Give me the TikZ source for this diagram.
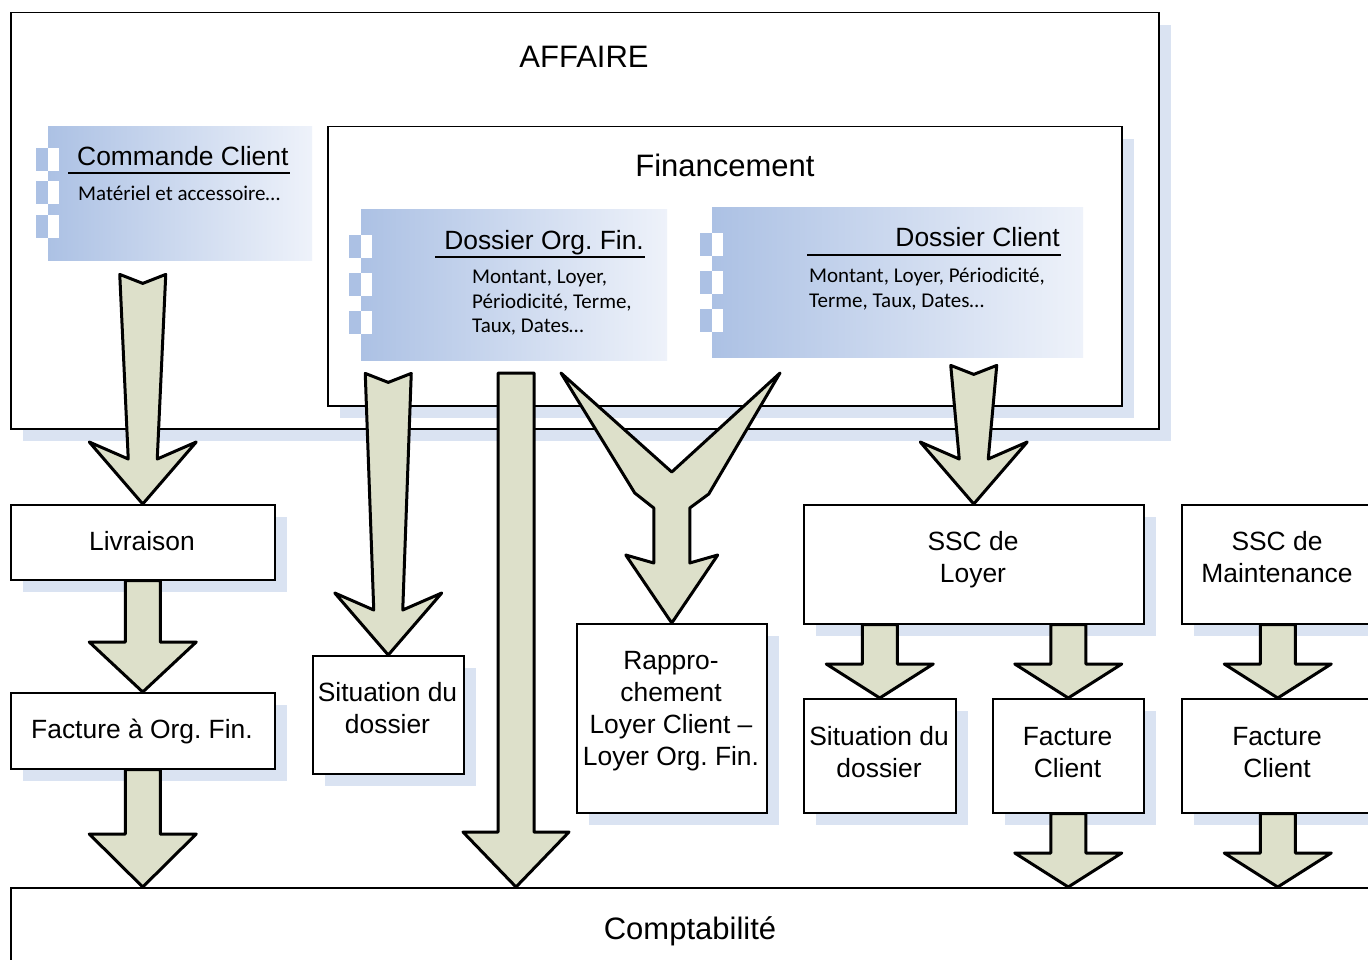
\documentclass[tikz,border=0pt]{standalone}
\usepackage{fontspec}
\setmainfont{Liberation Sans}
\newfontfamily\calfont{Carlito}
\usetikzlibrary{calc,shadows}
\frenchspacing
\definecolor{gl}{RGB}{172,193,228}
\definecolor{gr}{RGB}{238,242,250}
\definecolor{shadowc}{RGB}{218,227,242}
\definecolor{arrfill}{RGB}{221,224,202}
\newcommand\llines[1]{\begin{tabular}[t]{@{}l@{}}#1\end{tabular}}
\newcommand\clines[1]{\begin{tabular}[t]{@{}c@{}}#1\end{tabular}}
\tikzset{
 box/.style={draw=black, line width=1.5pt, fill=white, inner sep=0pt, anchor=north west,
   drop shadow={shadow xshift=12pt, shadow yshift=-12pt, fill=shadowc, opacity=1}},
 gbox/.style={left color=gl, right color=gr, draw=none, inner sep=0pt, anchor=north west},
 btxt/.style={font=\frenchspacing\fontsize{26.4}{32}\selectfont, anchor=base, inner sep=0pt},
 bigtxt/.style={font=\fontsize{31}{36}\selectfont, anchor=base, inner sep=0pt},
 gtitle/.style={font=\frenchspacing\fontsize{26.4}{32}\selectfont, anchor=base west, inner sep=0pt},
 gbody/.style={font=\frenchspacing\calfont\fontsize{21}{25}\selectfont, anchor=base west, inner sep=0pt},
 uline/.style={line width=1.8pt},
 bigarrow/.style={draw=black, fill=arrfill, line width=3pt, line join=round},
}
\newcommand\checkers[4]{%
 \foreach \o in {#2,#3,#4}{%
  \fill[gl] ($(#1.north west)+(-12,-\o)$) rectangle ++(12,-23);
  \fill[white] ($(#1.north west)+(0,-\o)$) rectangle ++(11,-23);
 }}
% straight block arrow: #1 from node, #2 to node, #3 x reference, #4 head height
\newcommand\blockarr[4]{%
 \path[bigarrow] let \p1=(#1.south), \p2=(#2.north), \p3=(#3) in
  (\x3-17.5pt,\y1) -- (\x3+17.5pt,\y1) -- (\x3+17.5pt,\y2+#4) -- (\x3+53.5pt,\y2+#4)
  -- (\x3,\y2) -- (\x3-53.5pt,\y2+#4) -- (\x3-17.5pt,\y2+#4) -- cycle;}
% tapered notched arrow: #1 from node, #2 to node, #3 gap below #1
\newcommand\taperarr[3]{%
 \path[bigarrow] let \p1=(#1.south), \p2=(#2.north) in
  (\x2-23pt,\y1-#3) -- (\x2,\y1-#3-9pt) -- (\x2+23pt,\y1-#3) -- (\x2+14.5pt,\y2+45pt)
  -- (\x2+53.5pt,\y2+62pt) -- (\x2,\y2) -- (\x2-53.5pt,\y2+62pt) -- (\x2-14.5pt,\y2+45pt) -- cycle;}
\begin{document}
\begin{tikzpicture}[x=1pt,y=1pt]
\useasboundingbox (0,-960) rectangle (1368,0);
\fill[white] (0,-960) rectangle (1368,0);
\clip (0,-960) rectangle (1368,0);

% frames
\node[box, minimum width=1148pt, minimum height=416pt] (aff) at (10,-12) {};
\node[bigtxt] (afft) at (584,-68) {AFFAIRE};
\node[box, minimum width=794pt, minimum height=279pt] (fin) at (327,-126) {};
\node[bigtxt] (fint) at (725,-177) {Financement};

% gradient blocks
\node[gbox, minimum width=264pt, minimum height=134pt] (cc) at (48,-126) {};
\checkers{cc}{22}{55}{89}
\node[gtitle] (cct) at (77,-166) {Commande Client};
\draw[uline] (68,-173) -- (290,-173);
\node[gbody] (ccb) at (78,-201) {Matériel et accessoire…};

\node[gbox, minimum width=306pt, minimum height=151pt] (dof) at (361,-209) {};
\checkers{dof}{26}{64}{102}
\node[gtitle, anchor=base east] (doft) at (644,-249) {Dossier Org. Fin.};
\draw[uline] (435,-257) -- (645,-257);
\node[gbody] (dofb) at (472,-283) {\llines{Montant, Loyer,\\Périodicité, Terme,\\Taux, Dates…}};

\node[gbox, minimum width=371pt, minimum height=150pt] (dcl) at (712,-207) {};
\checkers{dcl}{26}{64}{102}
\node[gtitle, anchor=base east] (dclt) at (1060,-247) {Dossier Client};
\draw[uline] (807,-255) -- (1061,-255);
\node[gbody] (dclb) at (809,-282) {\llines{Montant, Loyer, Périodicité,\\Terme, Taux, Dates…}};

% lower boxes
\node[box, minimum width=264pt, minimum height=75pt] (liv) at (10,-504) {};
\node[btxt] (livt) at (142,-550.5) {Livraison};
\node[box, minimum width=264pt, minimum height=76pt] (fac1) at (10,-692) {};
\node[btxt] (fac1t) at (142,-738) {Facture à Org. Fin.};
\node[box, minimum width=151pt, minimum height=118pt] (sit1) at (312,-655) {};
\node[btxt] (sit1t) at (387.5,-701.5) {\clines{Situation du\\dossier}};
\node[box, minimum width=190pt, minimum height=189pt] (rap) at (576,-623) {};
\node[btxt] (rapt) at (671,-669.5) {\clines{Rappro-\\chement\\Loyer Client –\\Loyer Org. Fin.}};
\node[box, minimum width=340pt, minimum height=119pt] (sscl) at (803,-504) {};
\node[btxt] (ssclt) at (973,-550.5) {\clines{SSC de\\Loyer}};
\node[box, minimum width=192pt, minimum height=119pt] (sscm) at (1181,-504) {};
\node[btxt] (sscmt) at (1277,-550.5) {\clines{SSC de\\Maintenance}};
\node[box, minimum width=152pt, minimum height=114pt] (sit2) at (803,-698) {};
\node[btxt] (sit2t) at (879,-745) {\clines{Situation du\\dossier}};
\node[box, minimum width=151pt, minimum height=114pt] (fc1) at (992,-698) {};
\node[btxt] (fc1t) at (1067.5,-745) {\clines{Facture\\Client}};
\node[box, minimum width=192pt, minimum height=114pt] (fc2) at (1181,-698) {};
\node[btxt] (fc2t) at (1277,-745) {\clines{Facture\\Client}};
\node[box, minimum width=1360pt, minimum height=82pt] (compta) at (10,-887) {};
\node[bigtxt] (comptat) at (690,-939) {Comptabilité};

% arrows
\taperarr{cc}{liv}{14pt}
\taperarr{dof}{sit1}{13pt}
\taperarr{dcl}{sscl}{8pt}

\coordinate (lo) at (516,-373);
\path[bigarrow] let \p1=(lo), \p2=(lo |- compta.north) in
  (\x1-18pt,\y1) -- (\x1+18pt,\y1) -- (\x1+18pt,\y2+55pt) -- (\x1+53pt,\y2+55pt)
  -- (\x2,\y2) -- (\x1-53pt,\y2+55pt) -- (\x1-18pt,\y2+55pt) -- cycle;

\coordinate (ya) at (561,-373);
\coordinate (yb) at (780,-373);
\path[bigarrow] let \p1=(ya), \p2=(yb), \p3=(rap.north) in
  (\p1) -- (\x3,\y3+151pt) -- (\p2) -- (\x3+37pt,\y3+129pt) -- (\x3+18pt,\y3+115pt)
  -- (\x3+18pt,\y3+60pt) -- (\x3+46pt,\y3+68pt) -- (\p3) -- (\x3-46pt,\y3+68pt)
  -- (\x3-18pt,\y3+60pt) -- (\x3-18pt,\y3+115pt) -- (\x3-37pt,\y3+130pt) -- cycle;

\blockarr{liv}{fac1}{fac1.north}{50pt}
\blockarr{fac1}{compta}{fac1.south}{53pt}
\blockarr{sscl}{sit2}{sit2.north}{34pt}
\blockarr{sscl}{fc1}{fc1.north}{34pt}
\blockarr{fc1}{compta}{fc1.south}{34pt}
\blockarr{sscm}{fc2}{fc2.north}{34pt}
\blockarr{fc2}{compta}{fc2.south}{34pt}
\end{tikzpicture}
\end{document}
